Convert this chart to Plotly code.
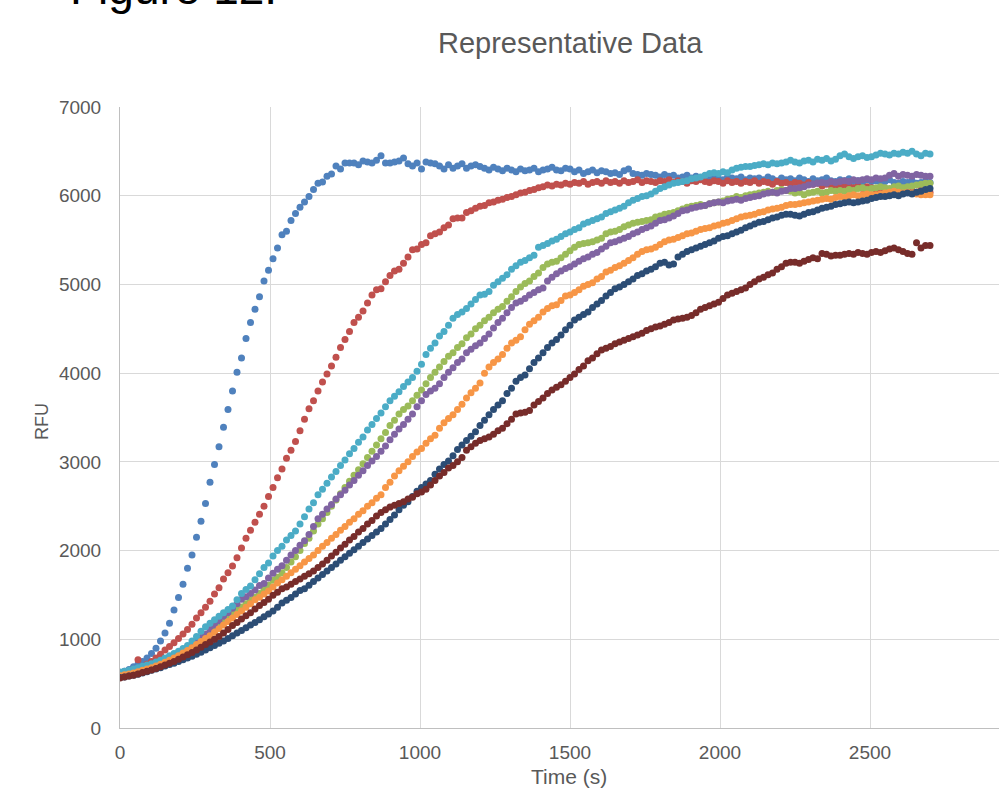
import plotly.graph_objects as go

time_s = list(range(0, 2701, 15))

blue = [
    620, 640, 660, 690, 720, 750, 790, 840, 900, 980,
    1070, 1180, 1330, 1470, 1620, 1800, 1950, 2150, 2330, 2530,
    2770, 2970, 3170, 3390, 3590, 3800, 4010, 4170, 4390, 4570,
    4720, 4860, 5040, 5160, 5290, 5410, 5560, 5600, 5720, 5800,
    5870, 5930, 5990, 6070, 6140, 6155, 6220, 6245, 6335, 6300,
    6370, 6370, 6370, 6350, 6390, 6380, 6370, 6400, 6450, 6370,
    6370, 6380, 6390, 6425, 6360, 6335, 6370, 6300, 6380, 6370,
    6360, 6335, 6300, 6350, 6310, 6335, 6360, 6310, 6335, 6350,
    6330, 6310, 6290, 6320, 6300, 6280, 6310, 6290, 6270, 6300,
    6280, 6290, 6310, 6270, 6290, 6300, 6320, 6290, 6280, 6310,
    6300, 6270, 6290, 6250, 6270, 6290, 6260, 6280, 6270, 6250,
    6260, 6240, 6280, 6300, 6250, 6240, 6230, 6250, 6240, 6230,
    6210, 6240, 6220, 6230, 6200, 6210, 6230, 6200, 6220, 6190,
    6210, 6200, 6220, 6190, 6180, 6210, 6200, 6190, 6210, 6180,
    6200, 6190, 6200, 6180, 6210, 6190, 6170, 6200, 6180, 6190,
    6170, 6200, 6180, 6160, 6190, 6170, 6180, 6200, 6170, 6160,
    6180, 6170, 6190, 6160, 6170, 6150, 6180, 6160, 6170, 6150,
    6160, 6180, 6150, 6140, 6160, 6150, 6170, 6140, 6150, 6160,
    6150]

red = [
    600, 620, 640, 660, 770, 690, 720, 750, 790, 830,
    880, 920, 960, 1010, 1060, 1110, 1170, 1240, 1300, 1360,
    1430, 1510, 1580, 1680, 1750, 1825, 1920, 2030, 2140, 2230,
    2320, 2410, 2500, 2610, 2710, 2820, 2920, 3040, 3130, 3230,
    3350, 3480, 3600, 3690, 3800, 3900, 3990, 4080, 4180, 4290,
    4380, 4470, 4570, 4630, 4700, 4790, 4880, 4940, 4950, 5030,
    5100, 5150, 5170, 5240, 5310, 5390, 5400, 5450, 5470, 5550,
    5570, 5590, 5640, 5670, 5740, 5750, 5750, 5810, 5830, 5860,
    5880, 5890, 5920, 5930, 5950, 5960, 5980, 5990, 6010, 6030,
    6040, 6060, 6070, 6090, 6100, 6120, 6110, 6130, 6120, 6140,
    6130, 6150, 6140, 6160, 6130, 6150, 6160, 6140, 6170, 6150,
    6160, 6140, 6170, 6150, 6160, 6180, 6150, 6170, 6160, 6150,
    6170, 6160, 6180, 6150, 6170, 6160, 6140, 6170, 6160, 6180,
    6160, 6150, 6170, 6160, 6140, 6170, 6150, 6160, 6140, 6160,
    6150, 6170, 6140, 6160, 6150, 6130, 6160, 6140, 6150, 6130,
    6150, 6140, 6120, 6150, 6130, 6140, 6110, 6130, 6120, 6100,
    6120, 6100, 6110, 6090, 6110, 6080, 6100, 6090, 6070, 6090,
    6080, 6060, 6090, 6070, 6050, 6080, 6060, 6040, 6070, 6050,
    6040]

green = [
    620, 625, 635, 645, 660, 675, 690, 705, 725, 745,
    765, 790, 815, 840, 870, 900, 930, 965, 1000, 1040,
    1080, 1130, 1185, 1225, 1260, 1295, 1330, 1365, 1400, 1440,
    1475, 1515, 1560, 1610, 1665, 1700, 1750, 1810, 1870, 1930,
    2000, 2080, 2140, 2220, 2300, 2360, 2430, 2500, 2570, 2640,
    2710, 2780, 2850, 2910, 2980, 3050, 3120, 3190, 3260, 3330,
    3410, 3470, 3540, 3590, 3630, 3690, 3750, 3810, 3880, 3950,
    4010, 4070, 4130, 4190, 4230, 4290, 4330, 4400, 4440, 4500,
    4540, 4590, 4630, 4680, 4720, 4750, 4810, 4860, 4920, 4970,
    5010, 5040, 5090, 5130, 5190, 5230, 5250, 5260, 5300, 5340,
    5380, 5420, 5450, 5460, 5470, 5480, 5500, 5520, 5570, 5590,
    5600, 5620, 5650, 5670, 5690, 5700, 5710, 5720, 5730, 5760,
    5770, 5790, 5800, 5810, 5830, 5850, 5870, 5880, 5890, 5900,
    5890, 5910, 5920, 5930, 5940, 5960, 5970, 5990, 5980, 6000,
    6010, 6020, 6030, 6040, 6050, 6040, 6060, 6070, 6060, 6050,
    6030, 6040, 6010, 6030, 6040, 6050, 6030, 6040, 6060, 6050,
    6060, 6050, 6070, 6060, 6080, 6090, 6070, 6080, 6090, 6100,
    6090, 6080, 6100, 6110, 6090, 6100, 6110, 6120, 6130, 6140,
    6140]

purple = [
    610, 620, 630, 640, 655, 670, 685, 700, 720, 740,
    760, 785, 810, 840, 870, 905, 940, 980, 1020, 1060,
    1110, 1160, 1210, 1260, 1300, 1350, 1400, 1450, 1480, 1515,
    1555, 1605, 1630, 1690, 1745, 1790, 1830, 1890, 1950, 2000,
    2060, 2110, 2180, 2270, 2360, 2410, 2470, 2520, 2580, 2630,
    2680, 2740, 2790, 2850, 2900, 2960, 3010, 3060, 3120, 3180,
    3250, 3310, 3370, 3420, 3480, 3540, 3620, 3690, 3760, 3800,
    3830, 3880, 3950, 4010, 4060, 4120, 4160, 4230, 4270, 4310,
    4340, 4390, 4440, 4510, 4570, 4620, 4680, 4740, 4790, 4810,
    4840, 4880, 4910, 4940, 4960, 5040, 5080, 5120, 5150, 5180,
    5200, 5230, 5260, 5290, 5310, 5340, 5360, 5400, 5430, 5470,
    5480, 5500, 5520, 5540, 5570, 5590, 5620, 5640, 5660, 5690,
    5720, 5730, 5750, 5770, 5800, 5830, 5840, 5860, 5870, 5880,
    5890, 5910, 5920, 5930, 5920, 5940, 5950, 5960, 5950, 5970,
    5980, 5990, 6000, 6020, 6030, 6040, 6030, 6050, 6060, 6080,
    6080, 6090, 6100, 6120, 6130, 6140, 6150, 6140, 6160, 6150,
    6160, 6170, 6160, 6180, 6170, 6180, 6190, 6180, 6200, 6190,
    6200, 6230, 6250, 6220, 6240, 6230, 6220, 6240, 6230, 6220,
    6220]

cyan = [
    630, 640, 650, 665, 680, 695, 710, 725, 745, 765,
    790, 815, 840, 865, 895, 930, 980, 1030, 1090, 1140,
    1180, 1220, 1260, 1300, 1335, 1375, 1445, 1515, 1560, 1600,
    1670, 1740, 1810, 1860, 1940, 2000, 2050, 2120, 2170, 2220,
    2300, 2380, 2470, 2540, 2630, 2690, 2760, 2830, 2890, 2960,
    3020, 3090, 3150, 3220, 3280, 3360, 3420, 3490, 3550, 3620,
    3690, 3740, 3790, 3850, 3900, 3950, 4020, 4100, 4210, 4280,
    4340, 4420, 4470, 4540, 4620, 4660, 4690, 4730, 4780, 4830,
    4880, 4890, 4920, 4990, 5030, 5070, 5110, 5170, 5210, 5250,
    5270, 5300, 5330, 5420, 5440, 5460, 5490, 5510, 5540, 5570,
    5590, 5620, 5640, 5680, 5700, 5720, 5740, 5760, 5800, 5820,
    5840, 5860, 5880, 5920, 5950, 5970, 5990, 6000, 6020, 6050,
    6080, 6100, 6120, 6140, 6150, 6160, 6170, 6190, 6200, 6210,
    6230, 6250, 6260, 6250, 6270, 6260, 6290, 6310, 6320, 6330,
    6330, 6340, 6350, 6360, 6350, 6370, 6360, 6370, 6380, 6400,
    6380, 6370, 6390, 6400, 6380, 6410, 6400, 6420, 6390, 6410,
    6450, 6470, 6440, 6420, 6440, 6450, 6430, 6440, 6460, 6480,
    6470, 6460, 6480, 6470, 6490, 6480, 6500, 6470, 6450, 6480,
    6470]

orange = [
    590, 600, 610, 620, 635, 650, 665, 680, 700, 720,
    740, 765, 790, 815, 845, 875, 905, 940, 975, 1010,
    1040, 1080, 1120, 1160, 1200, 1240, 1280, 1320, 1360, 1400,
    1445, 1475, 1510, 1545, 1590, 1635, 1670, 1710, 1750, 1790,
    1830, 1870, 1910, 1950, 2000, 2050, 2090, 2140, 2180, 2230,
    2270, 2320, 2360, 2410, 2450, 2500, 2540, 2590, 2630, 2710,
    2770, 2840, 2900, 2950, 3000, 3060, 3110, 3150, 3210, 3260,
    3300, 3380, 3440, 3490, 3530, 3590, 3650, 3720, 3780, 3830,
    3890, 4000, 4070, 4120, 4160, 4210, 4280, 4340, 4370, 4410,
    4490, 4550, 4590, 4630, 4690, 4730, 4760, 4770, 4820, 4870,
    4880, 4910, 4940, 4980, 5000, 5020, 5060, 5090, 5140, 5160,
    5190, 5210, 5240, 5270, 5300, 5340, 5370, 5390, 5400, 5420,
    5450, 5480, 5500, 5510, 5530, 5550, 5570, 5580, 5600, 5620,
    5630, 5640, 5660, 5670, 5690, 5700, 5720, 5740, 5760, 5770,
    5780, 5790, 5810, 5820, 5840, 5850, 5860, 5870, 5890, 5900,
    5900, 5910, 5920, 5930, 5940, 5950, 5960, 5970, 5960, 5980,
    5990, 5980, 6000, 6010, 6000, 6010, 6020, 6010, 6010, 6020,
    6030, 6040, 6050, 6040, 6030, 6040, 6030, 6020, 6010, 6010,
    6010]

dark_blue = [
    570, 575, 585, 595, 605, 620, 635, 650, 665, 680,
    700, 715, 730, 750, 770, 790, 810, 830, 855, 880,
    905, 930, 955, 980, 1010, 1040, 1070, 1100, 1130, 1160,
    1190, 1220, 1255, 1285, 1320, 1360, 1410, 1440, 1470, 1510,
    1550, 1570, 1610, 1650, 1690, 1730, 1770, 1810, 1850, 1890,
    1930, 1970, 2010, 2050, 2090, 2130, 2170, 2210, 2250, 2300,
    2350, 2400, 2460, 2510, 2550, 2610, 2670, 2710, 2750, 2790,
    2860, 2920, 2970, 3010, 3070, 3140, 3190, 3240, 3290, 3340,
    3410, 3470, 3530, 3590, 3640, 3690, 3770, 3830, 3910, 3950,
    3980, 4050, 4120, 4170, 4230, 4290, 4340, 4380, 4430, 4490,
    4540, 4600, 4630, 4660, 4690, 4740, 4780, 4820, 4870, 4910,
    4950, 4970, 5000, 5030, 5060, 5100, 5120, 5150, 5170, 5200,
    5240, 5250, 5220, 5230, 5310, 5340, 5370, 5390, 5410, 5430,
    5450, 5470, 5490, 5520, 5540, 5550, 5570, 5590, 5610, 5640,
    5660, 5680, 5700, 5710, 5730, 5750, 5760, 5780, 5790, 5790,
    5780, 5770, 5790, 5810, 5820, 5840, 5860, 5870, 5880, 5900,
    5910, 5920, 5930, 5920, 5930, 5940, 5950, 5970, 5980, 5990,
    5990, 6000, 6010, 6000, 6020, 6030, 6020, 6040, 6050, 6070,
    6080]

maroon = [
    565, 575, 585, 595, 610, 625, 640, 655, 670, 690,
    710, 730, 750, 775, 800, 825, 850, 880, 910, 940,
    970, 1000, 1030, 1070, 1110, 1155, 1190, 1230, 1265, 1300,
    1340, 1380, 1415, 1450, 1495, 1530, 1570, 1590, 1620, 1650,
    1680, 1710, 1740, 1770, 1810, 1850, 1890, 1940, 1980, 2030,
    2070, 2120, 2160, 2210, 2250, 2300, 2340, 2390, 2430, 2460,
    2490, 2510, 2530, 2550, 2580, 2600, 2640, 2660, 2690, 2740,
    2790, 2840, 2880, 2930, 2960, 3000, 3050, 3130, 3170, 3210,
    3240, 3260, 3280, 3310, 3350, 3380, 3430, 3480, 3540, 3550,
    3560, 3580, 3640, 3680, 3720, 3770, 3810, 3840, 3870, 3910,
    3950, 3990, 4040, 4080, 4140, 4170, 4220, 4260, 4280, 4300,
    4330, 4350, 4370, 4390, 4410, 4430, 4450, 4480, 4500, 4520,
    4530, 4550, 4570, 4600, 4610, 4620, 4630, 4650, 4680, 4720,
    4740, 4760, 4780, 4800, 4840, 4880, 4900, 4920, 4940, 4960,
    5000, 5030, 5060, 5080, 5110, 5130, 5170, 5200, 5240, 5250,
    5250, 5240, 5260, 5280, 5300, 5290, 5350, 5340, 5320, 5330,
    5330, 5340, 5350, 5340, 5360, 5350, 5340, 5360, 5370, 5360,
    5380, 5400, 5410, 5390, 5370, 5350, 5340, 5470, 5410, 5440,
    5440]

series = [
    ("Series1", blue, "#4F81BD"),
    ("Series2", red, "#C0504D"),
    ("Series3", green, "#9BBB59"),
    ("Series4", purple, "#8064A2"),
    ("Series5", cyan, "#4BACC6"),
    ("Series6", orange, "#F79646"),
    ("Series7", dark_blue, "#2C4D75"),
    ("Series8", maroon, "#772C2A"),
]

for name, vals, _ in series:
    assert len(vals) == len(time_s), (name, len(vals))

x_ticks = [0, 500, 1000, 1500, 2000, 2500, 3000]
y_ticks = [0, 1000, 2000, 3000, 4000, 5000, 6000, 7000]

fig = go.Figure()
for name, vals, color in series:
    fig.add_trace(go.Scatter(
        x=time_s, y=vals, mode="markers", name=name,
        marker=dict(size=7, color=color, line=dict(width=0)),
        showlegend=False,
    ))

FONT = "Liberation Sans, Arial, sans-serif"
L, R, T, B = 120, 0, 107, 64
W, H = 999, 792
pw = W - L - R
ph = H - T - B


def px_x(px):
    return (px - L) / pw


def px_y(py):
    return (H - B - py) / ph


fig.update_layout(
    width=W, height=H,
    margin=dict(l=L, r=R, t=T, b=B, pad=0),
    paper_bgcolor="white", plot_bgcolor="white",
    font=dict(family=FONT, color="#595959"),
    xaxis=dict(
        range=[0, 2930], tickvals=x_ticks, ticktext=[str(v) for v in x_ticks],
        showgrid=True, gridcolor="#D9D9D9", gridwidth=1,
        showline=True, linecolor="#BFBFBF", linewidth=1,
        zeroline=False, ticks="", tickfont=dict(size=19, color="#595959"),
        ticklabelstandoff=7,
    ),
    yaxis=dict(
        range=[0, 7000], tickvals=y_ticks, ticktext=[str(v) for v in y_ticks],
        showgrid=True, gridcolor="#D9D9D9", gridwidth=1,
        showline=True, linecolor="#BFBFBF", linewidth=1,
        zeroline=False, ticks="", tickfont=dict(size=19, color="#595959"),
        ticklabelstandoff=14,
    ),
    annotations=[
        dict(text="Representative Data", xref="paper", yref="paper",
             x=px_x(570), y=px_y(43), xanchor="center", yanchor="middle",
             showarrow=False, font=dict(size=29, color="#595959", family=FONT)),
        dict(text="Time (s)", xref="paper", yref="paper",
             x=px_x(569), y=px_y(777), xanchor="center", yanchor="middle",
             showarrow=False, font=dict(size=21, color="#595959", family=FONT)),
        dict(text="RFU", xref="paper", yref="paper", textangle=-90,
             x=px_x(42), y=px_y(422), xanchor="center", yanchor="middle",
             showarrow=False, font=dict(size=18, color="#595959", family=FONT)),
        dict(text="Figure 12.", xref="paper", yref="paper",
             x=px_x(68), y=px_y(-12), xanchor="left", yanchor="middle",
             showarrow=False, font=dict(size=46, color="#000000", family=FONT)),
    ],
)

fig.write_html(
    "out.html",
    config={"displayModeBar": False},
    post_script="document.body.style.margin='0';document.body.style.overflow='hidden';",
)
